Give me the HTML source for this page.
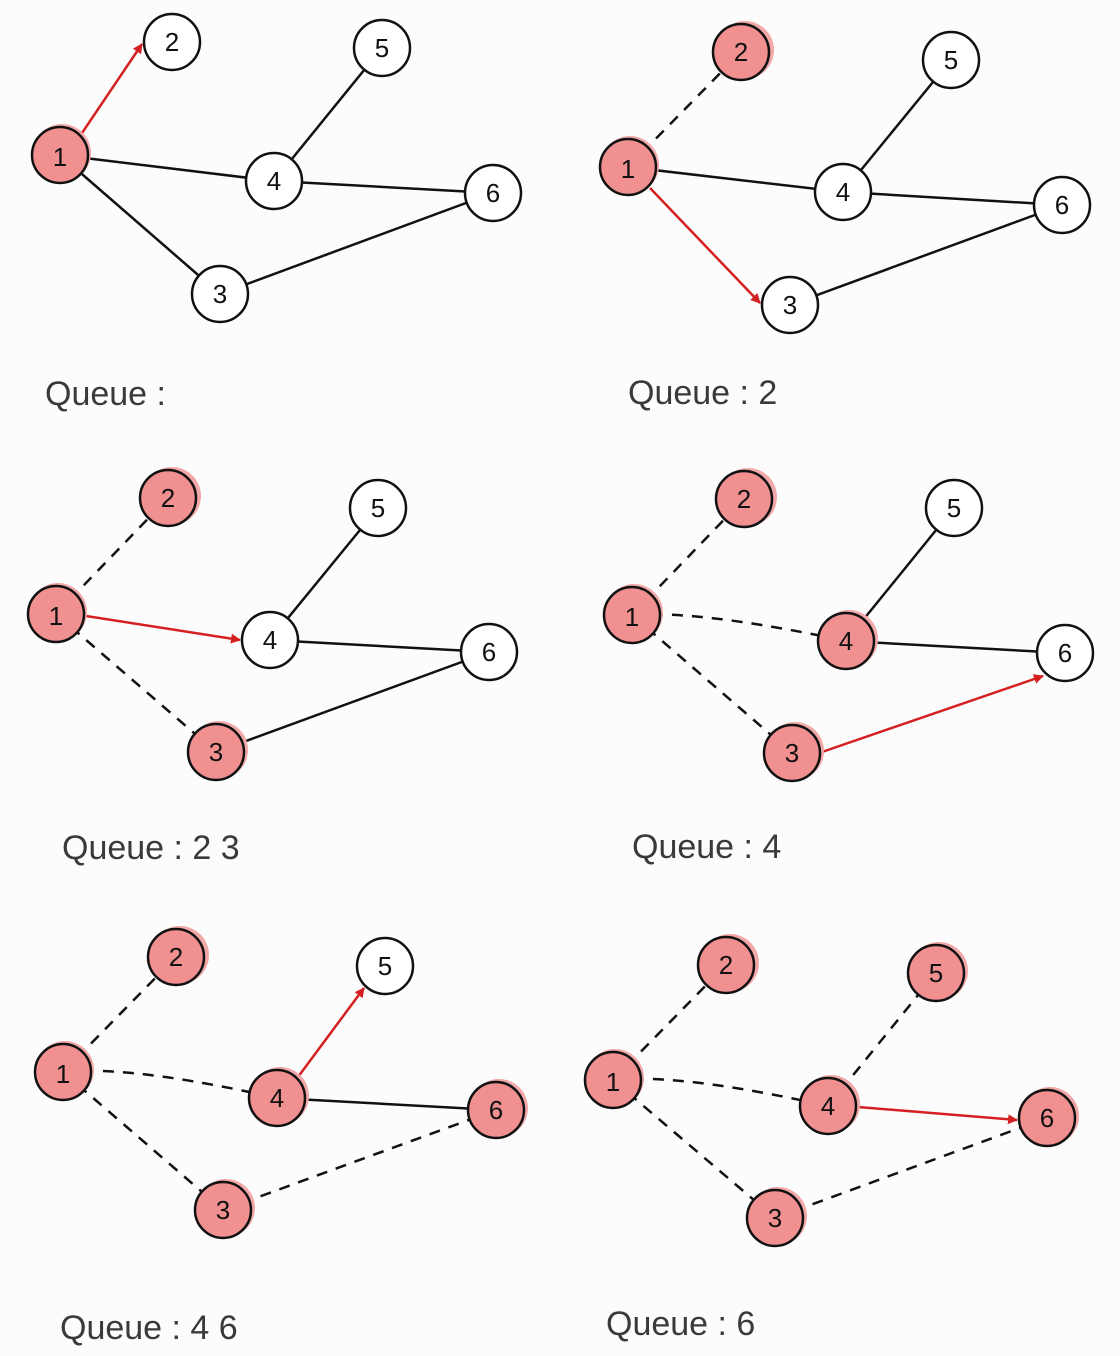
<!DOCTYPE html>
<html><head><style>
html,body{margin:0;padding:0;background:#fcfcfc;}
svg{display:block}
text.n{font-family:"Liberation Sans",sans-serif;font-size:26px;text-anchor:middle;dominant-baseline:central;fill:#111}
text.q{font-family:"Liberation Sans",sans-serif;font-size:34px;fill:#3a3a3a}
line{stroke:#111;stroke-width:2.5}
line.d{stroke-dasharray:11 9}
line.r{stroke:#d42020;stroke-width:2.5}
circle.w{fill:#fff;stroke:#111;stroke-width:2.5}
circle.f{fill:#f09090;stroke:#111;stroke-width:2.5}
circle.s{fill:#f2a8a8;stroke:none}
</style></head><body>
<svg width="1120" height="1356" viewBox="0 0 1120 1356" xmlns="http://www.w3.org/2000/svg">
<defs><marker id="a" markerWidth="10" markerHeight="10" refX="9" refY="5" orient="auto" markerUnits="userSpaceOnUse"><path d="M0,0 L10,5 L0,10 z" fill="#d42020"/></marker></defs>

<!-- Panel 1 -->
<line x1="60" y1="155" x2="274" y2="181"/><line x1="274" y1="181" x2="382" y2="48"/><line x1="274" y1="181" x2="493" y2="193"/><line x1="60" y1="155" x2="220" y2="294"/><line x1="220" y1="294" x2="493" y2="193"/>
<line class="r" x1="82" y1="133" x2="142" y2="44" marker-end="url(#a)"/>
<circle class="s" cx="62" cy="153" r="29"/><circle class="f" cx="60" cy="155" r="28"/><text class="n" x="60" y="157">1</text>
<circle class="w" cx="172" cy="42" r="28"/><text class="n" x="172" y="42">2</text>
<circle class="w" cx="382" cy="48" r="28"/><text class="n" x="382" y="48">5</text>
<circle class="w" cx="274" cy="181" r="28"/><text class="n" x="274" y="181">4</text>
<circle class="w" cx="493" cy="193" r="28"/><text class="n" x="493" y="193">6</text>
<circle class="w" cx="220" cy="294" r="28"/><text class="n" x="220" y="294">3</text>
<text class="q" x="45" y="405">Queue :</text>

<!-- Panel 2 -->
<line class="d" x1="628" y1="167" x2="741" y2="52"/><line x1="628" y1="167" x2="843" y2="192"/><line x1="843" y1="192" x2="951" y2="60"/><line x1="843" y1="192" x2="1062" y2="205"/><line x1="790" y1="305" x2="1062" y2="205"/>
<line class="r" x1="650" y1="188" x2="760" y2="303" marker-end="url(#a)"/>
<circle class="s" cx="630" cy="165" r="29"/><circle class="f" cx="628" cy="167" r="28"/><text class="n" x="628" y="169">1</text>
<circle class="s" cx="745" cy="50" r="29"/><circle class="f" cx="741" cy="52" r="28"/><text class="n" x="741" y="52">2</text>
<circle class="w" cx="951" cy="60" r="28"/><text class="n" x="951" y="60">5</text>
<circle class="w" cx="843" cy="192" r="28"/><text class="n" x="843" y="192">4</text>
<circle class="w" cx="1062" cy="205" r="28"/><text class="n" x="1062" y="205">6</text>
<circle class="w" cx="790" cy="305" r="28"/><text class="n" x="790" y="305">3</text>
<text class="q" x="628" y="404">Queue : 2</text>

<!-- Panel 3 -->
<line class="d" x1="56" y1="614" x2="168" y2="498"/><line class="d" x1="56" y1="614" x2="216" y2="752"/><line x1="270" y1="640" x2="378" y2="508"/><line x1="270" y1="640" x2="489" y2="652"/><line x1="216" y1="752" x2="489" y2="652"/>
<line class="r" x1="86" y1="616" x2="240" y2="640" marker-end="url(#a)"/>
<circle class="s" cx="58" cy="612" r="29"/><circle class="f" cx="56" cy="614" r="28"/><text class="n" x="56" y="616">1</text>
<circle class="s" cx="172" cy="496" r="29"/><circle class="f" cx="168" cy="498" r="28"/><text class="n" x="168" y="498">2</text>
<circle class="w" cx="378" cy="508" r="28"/><text class="n" x="378" y="508">5</text>
<circle class="w" cx="270" cy="640" r="28"/><text class="n" x="270" y="640">4</text>
<circle class="w" cx="489" cy="652" r="28"/><text class="n" x="489" y="652">6</text>
<circle class="s" cx="219" cy="750" r="29"/><circle class="f" cx="216" cy="752" r="28"/><text class="n" x="216" y="752">3</text>
<text class="q" x="62" y="859">Queue : 2 3</text>

<!-- Panel 4 -->
<line class="d" x1="632" y1="615" x2="744" y2="499"/><path d="M632,615 Q700,610 846,641" fill="none" stroke="#111" stroke-width="2.5" stroke-dasharray="11 9"/><line class="d" x1="632" y1="615" x2="792" y2="753"/><line x1="846" y1="641" x2="954" y2="508"/><line x1="846" y1="641" x2="1065" y2="653"/>
<line class="r" x1="822" y1="752" x2="1043" y2="676" marker-end="url(#a)"/>
<circle class="s" cx="634" cy="613" r="29"/><circle class="f" cx="632" cy="615" r="28"/><text class="n" x="632" y="617">1</text>
<circle class="s" cx="748" cy="497" r="29"/><circle class="f" cx="744" cy="499" r="28"/><text class="n" x="744" y="499">2</text>
<circle class="w" cx="954" cy="508" r="28"/><text class="n" x="954" y="508">5</text>
<circle class="s" cx="849" cy="639" r="29"/><circle class="f" cx="846" cy="641" r="28"/><text class="n" x="846" y="641">4</text>
<circle class="w" cx="1065" cy="653" r="28"/><text class="n" x="1065" y="653">6</text>
<circle class="s" cx="795" cy="751" r="29"/><circle class="f" cx="792" cy="753" r="28"/><text class="n" x="792" y="753">3</text>
<text class="q" x="632" y="858">Queue : 4</text>

<!-- Panel 5 -->
<line class="d" x1="63" y1="1072" x2="176" y2="957"/><path d="M63,1072 Q130,1065 277,1098" fill="none" stroke="#111" stroke-width="2.5" stroke-dasharray="11 9"/><line class="d" x1="63" y1="1072" x2="223" y2="1210"/><line class="d" x1="223" y1="1210" x2="496" y2="1110"/><line x1="277" y1="1098" x2="496" y2="1110"/>
<line class="r" x1="298" y1="1077" x2="364" y2="988" marker-end="url(#a)"/>
<circle class="s" cx="65" cy="1070" r="29"/><circle class="f" cx="63" cy="1072" r="28"/><text class="n" x="63" y="1074">1</text>
<circle class="s" cx="180" cy="955" r="29"/><circle class="f" cx="176" cy="957" r="28"/><text class="n" x="176" y="957">2</text>
<circle class="w" cx="385" cy="966" r="28"/><text class="n" x="385" y="966">5</text>
<circle class="s" cx="280" cy="1096" r="29"/><circle class="f" cx="277" cy="1098" r="28"/><text class="n" x="277" y="1098">4</text>
<circle class="s" cx="499" cy="1108" r="29"/><circle class="f" cx="496" cy="1110" r="28"/><text class="n" x="496" y="1110">6</text>
<circle class="s" cx="226" cy="1208" r="29"/><circle class="f" cx="223" cy="1210" r="28"/><text class="n" x="223" y="1210">3</text>
<text class="q" x="60" y="1339">Queue : 4 6</text>

<!-- Panel 6 -->
<line class="d" x1="613" y1="1080" x2="726" y2="965"/><path d="M613,1080 Q680,1073 828,1106" fill="none" stroke="#111" stroke-width="2.5" stroke-dasharray="11 9"/><line class="d" x1="613" y1="1080" x2="775" y2="1218"/><line class="d" x1="775" y1="1218" x2="1047" y2="1118"/><line class="d" x1="828" y1="1106" x2="936" y2="973"/>
<line class="r" x1="858" y1="1107" x2="1017" y2="1120" marker-end="url(#a)"/>
<circle class="s" cx="615" cy="1078" r="29"/><circle class="f" cx="613" cy="1080" r="28"/><text class="n" x="613" y="1082">1</text>
<circle class="s" cx="730" cy="963" r="29"/><circle class="f" cx="726" cy="965" r="28"/><text class="n" x="726" y="965">2</text>
<circle class="s" cx="939" cy="971" r="29"/><circle class="f" cx="936" cy="973" r="28"/><text class="n" x="936" y="973">5</text>
<circle class="s" cx="831" cy="1104" r="29"/><circle class="f" cx="828" cy="1106" r="28"/><text class="n" x="828" y="1106">4</text>
<circle class="s" cx="1050" cy="1116" r="29"/><circle class="f" cx="1047" cy="1118" r="28"/><text class="n" x="1047" y="1118">6</text>
<circle class="s" cx="778" cy="1216" r="29"/><circle class="f" cx="775" cy="1218" r="28"/><text class="n" x="775" y="1218">3</text>
<text class="q" x="606" y="1335">Queue : 6</text>
</svg>
</body></html>
